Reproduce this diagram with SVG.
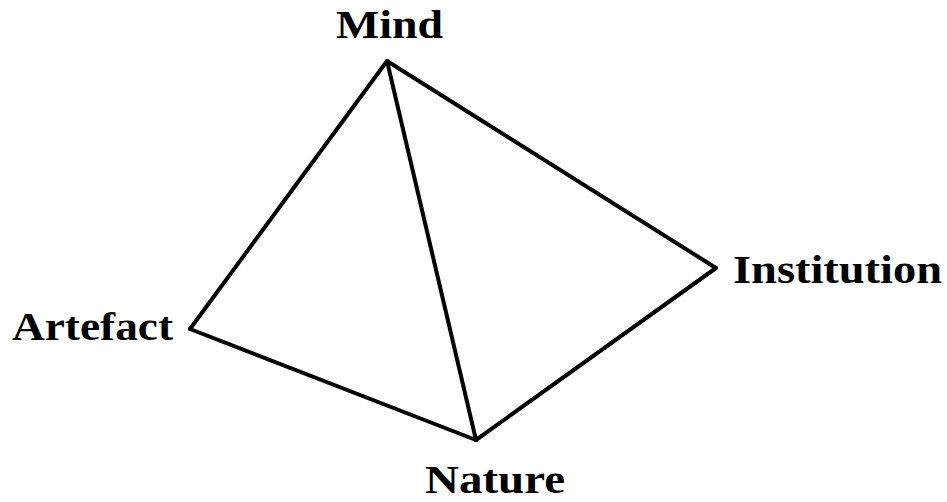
<svg xmlns="http://www.w3.org/2000/svg" width="947" height="502" viewBox="0 0 947 502">
<style>
.lbl{font-family:"Liberation Serif","Times New Roman",serif;font-weight:bold;font-size:41px;fill:#000}
.e{stroke:#000;stroke-width:4;stroke-linecap:round;fill:none}
</style>
<rect width="947" height="502" fill="#fff"/>
<g id="connectors">
<line class="e" x1="387" y1="61" x2="716" y2="268"/>
<line class="e" x1="387" y1="61" x2="190" y2="329"/>
<line class="e" x1="387" y1="61" x2="476" y2="440"/>
<line class="e" x1="190" y1="329" x2="476" y2="440"/>
<line class="e" x1="716" y1="268" x2="476" y2="440"/>
</g>
<g id="mind"><text class="lbl" x="336" y="38" textLength="107" lengthAdjust="spacingAndGlyphs">Mind</text></g>
<g id="institution"><text class="lbl" x="733" y="283" textLength="209" lengthAdjust="spacingAndGlyphs">Institution</text></g>
<g id="artefact"><text class="lbl" x="12" y="340" textLength="161" lengthAdjust="spacingAndGlyphs">Artefact</text></g>
<g id="nature"><text class="lbl" x="425" y="493" textLength="140" lengthAdjust="spacingAndGlyphs">Nature</text></g>
</svg>
